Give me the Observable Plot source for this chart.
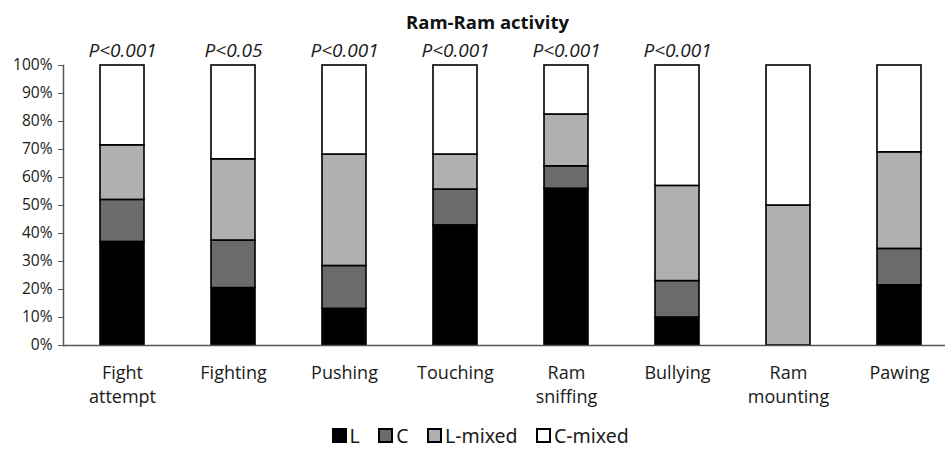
<!DOCTYPE html>
<html>
<head>
<meta charset="utf-8">
<script src="https://cdn.jsdelivr.net/npm/d3@7"></script>
<script src="https://cdn.jsdelivr.net/npm/@observablehq/plot@0.6"></script>
<style>
  html, body { margin: 0; padding: 0; background: #fff; }
  body { width: 945px; height: 451px; overflow: hidden; font-family: "Open Sans", sans-serif; }
  #title { height: 38px; box-sizing: border-box; padding-top: 11px; text-align: center; font-weight: bold; font-size: 18.5px; line-height: 22px; color: #111; padding-left: 30px; }
  #legend { height: 33px; box-sizing: border-box; padding-top: 8px; }
  .lg-swatches-wrap { justify-content: center; padding-left: 36px; min-height: 0 !important; line-height: 19px; margin: 0 !important; }
  .lg-swatch { font-size: 19.5px; line-height: 19px; color: #1a1a1a; margin-right: 1em !important; }
  .lg-swatch svg { margin-right: 0.2em !important; }
  .lg-swatch svg rect { stroke: #000; stroke-width: 2px; }
</style>
</head>
<body>
<div id="title">Ram-Ram activity</div>
<div id="chart"></div>
<div id="legend"></div>
<script>
const categories = ["Fight\nattempt", "Fighting", "Pushing", "Touching", "Ram\nsniffing", "Bullying", "Ram\nmounting", "Pawing"];
const series = ["L", "C", "L-mixed", "C-mixed"];
const seriesColors = ["#000000", "#6b6b6b", "#b0b0b0", "#ffffff"];
const valuesL      = [37,   20.5, 13.1, 42.9, 56,   10,   0,  21.5];
const valuesC      = [15,   17,   15.3, 12.8, 8,    13,   0,  13];
const valuesLmixed = [19.5, 29,   39.8, 12.5, 18.5, 34,   50, 34.5];
const valuesCmixed = [28.5, 33.5, 31.8, 31.8, 17.5, 43,   50, 31];
const pLabels = ["P<0.001", "P<0.05", "P<0.001", "P<0.001", "P<0.001", "P<0.001", "", ""];
const yTicks = [0, 10, 20, 30, 40, 50, 60, 70, 80, 90, 100];

const seriesValues = [valuesL, valuesC, valuesLmixed, valuesCmixed];
const data = [];
categories.forEach((c, i) => {
  series.forEach((s, j) => data.push({cat: c, series: s, value: seriesValues[j][i]}));
});
const pData = categories.map((c, i) => ({cat: c, p: pLabels[i], top: 100}));

const chart = Plot.plot({
  width: 945,
  height: 380,
  marginTop: 27,
  marginBottom: 73,
  marginLeft: 63,
  marginRight: 0,
  style: {fontFamily: "'Open Sans', sans-serif", color: "#1a1a1a", background: "#fff"},
  x: {domain: categories, range: [66.5, 954.5], paddingInner: 0.6, paddingOuter: 0.3, label: null},
  y: {domain: [0, 100], label: null},
  color: {domain: series, range: seriesColors},
  marks: [
    Plot.barY(data, {x: "cat", y: "value", fill: "series", stroke: "#000", strokeWidth: 1.6, inset: 0}),
    Plot.ruleY([0], {stroke: "#555", strokeWidth: 1.5}),
    Plot.frame({anchor: "left", stroke: "#555", strokeWidth: 1.5}),
    Plot.axisY({ticks: yTicks, tickFormat: d => d + "%", tickSize: 5, tickPadding: 6, fontSize: 15.5, stroke: "#555", label: null}),
    Plot.axisX({tickSize: 0, tickPadding: 17, fontSize: 18, lineHeight: 1.3, label: null}),
    Plot.text(pData, {x: "cat", y: "top", text: "p", dy: -15, fontSize: 19, fontStyle: "italic", fill: "#1a1a1a"})
  ]
});
document.getElementById("chart").appendChild(chart);

const legend = Plot.legend({
  color: {domain: series, range: seriesColors},
  legend: "swatches",
  swatchSize: 13,
  className: "lg"
});
document.getElementById("legend").appendChild(legend);
</script>
</body>
</html>
